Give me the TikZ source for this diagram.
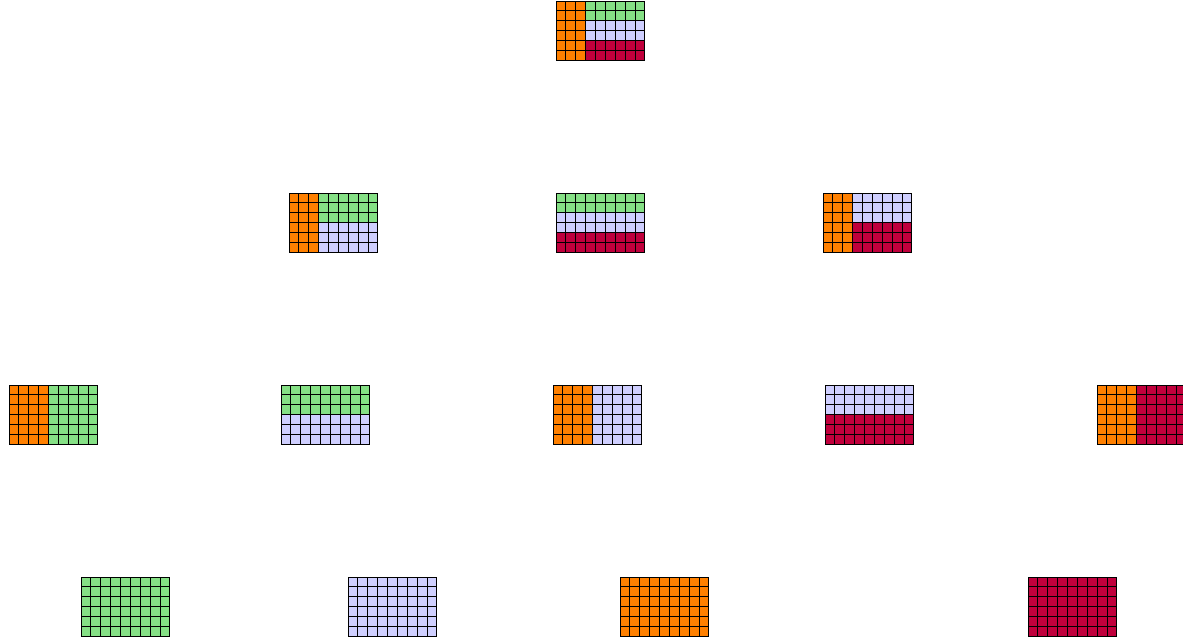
\documentclass[tikz,border=0pt]{standalone}
\usepackage{xcolor}
\usepackage{tikz}
\definecolor{cellorange}{HTML}{FF8000}
\definecolor{cellgreen}{HTML}{85E085}
\definecolor{celllavender}{HTML}{CFCFFF}
\definecolor{cellred}{HTML}{C0003C}

\tikzset{
  gridline/.style={black, line width=0.5pt},
  orangepart/.style={fill=cellorange},
  greenpart/.style={fill=cellgreen},
  lavenderpart/.style={fill=celllavender},
  redpart/.style={fill=cellred}
}

% one 9x6 block of cells, top left corner at (#1,#2), fills in #3
\newcommand{\cellblock}[3]{%
  \begin{scope}[shift={(#1,#2)}, x=0.1975cm, y=-0.1975cm]
    #3
    \foreach \i in {0,...,9} \draw[gridline] (\i,0) -- (\i,6);
    \foreach \j in {0,...,6} \draw[gridline] (0,\j) -- (9,\j);
  \end{scope}}

\begin{document}
\begin{tikzpicture}[x=0.02cm, y=-0.02cm]
  \path[use as bounding box] (0,0) rectangle (1183,643);
  \clip (0,0) rectangle (1183,643);

  % top
  \cellblock{556}{1}{%
    \fill[orangepart] (0,0) rectangle (3,6);
    \fill[greenpart] (3,0) rectangle (9,2);
    \fill[lavenderpart] (3,2) rectangle (9,4);
    \fill[redpart] (3,4) rectangle (9,6);}

  % second row
  \cellblock{289}{193}{%
    \fill[orangepart] (0,0) rectangle (3,6);
    \fill[greenpart] (3,0) rectangle (9,3);
    \fill[lavenderpart] (3,3) rectangle (9,6);}
  \cellblock{556}{193}{%
    \fill[greenpart] (0,0) rectangle (9,2);
    \fill[lavenderpart] (0,2) rectangle (9,4);
    \fill[redpart] (0,4) rectangle (9,6);}
  \cellblock{823}{193}{%
    \fill[orangepart] (0,0) rectangle (3,6);
    \fill[lavenderpart] (3,0) rectangle (9,3);
    \fill[redpart] (3,3) rectangle (9,6);}

  % third row
  \cellblock{9}{385}{%
    \fill[orangepart] (0,0) rectangle (4,6);
    \fill[greenpart] (4,0) rectangle (9,6);}
  \cellblock{281}{385}{%
    \fill[greenpart] (0,0) rectangle (9,3);
    \fill[lavenderpart] (0,3) rectangle (9,6);}
  \cellblock{553}{385}{%
    \fill[orangepart] (0,0) rectangle (4,6);
    \fill[lavenderpart] (4,0) rectangle (9,6);}
  \cellblock{825}{385}{%
    \fill[lavenderpart] (0,0) rectangle (9,3);
    \fill[redpart] (0,3) rectangle (9,6);}
  \cellblock{1097}{385}{%
    \fill[orangepart] (0,0) rectangle (4,6);
    \fill[redpart] (4,0) rectangle (9,6);}

  % bottom
  \cellblock{81}{577}{\fill[greenpart] (0,0) rectangle (9,6);}
  \cellblock{348}{577}{\fill[lavenderpart] (0,0) rectangle (9,6);}
  \cellblock{620}{577}{\fill[orangepart] (0,0) rectangle (9,6);}
  \cellblock{1028}{577}{\fill[redpart] (0,0) rectangle (9,6);}
\end{tikzpicture}
\end{document}
